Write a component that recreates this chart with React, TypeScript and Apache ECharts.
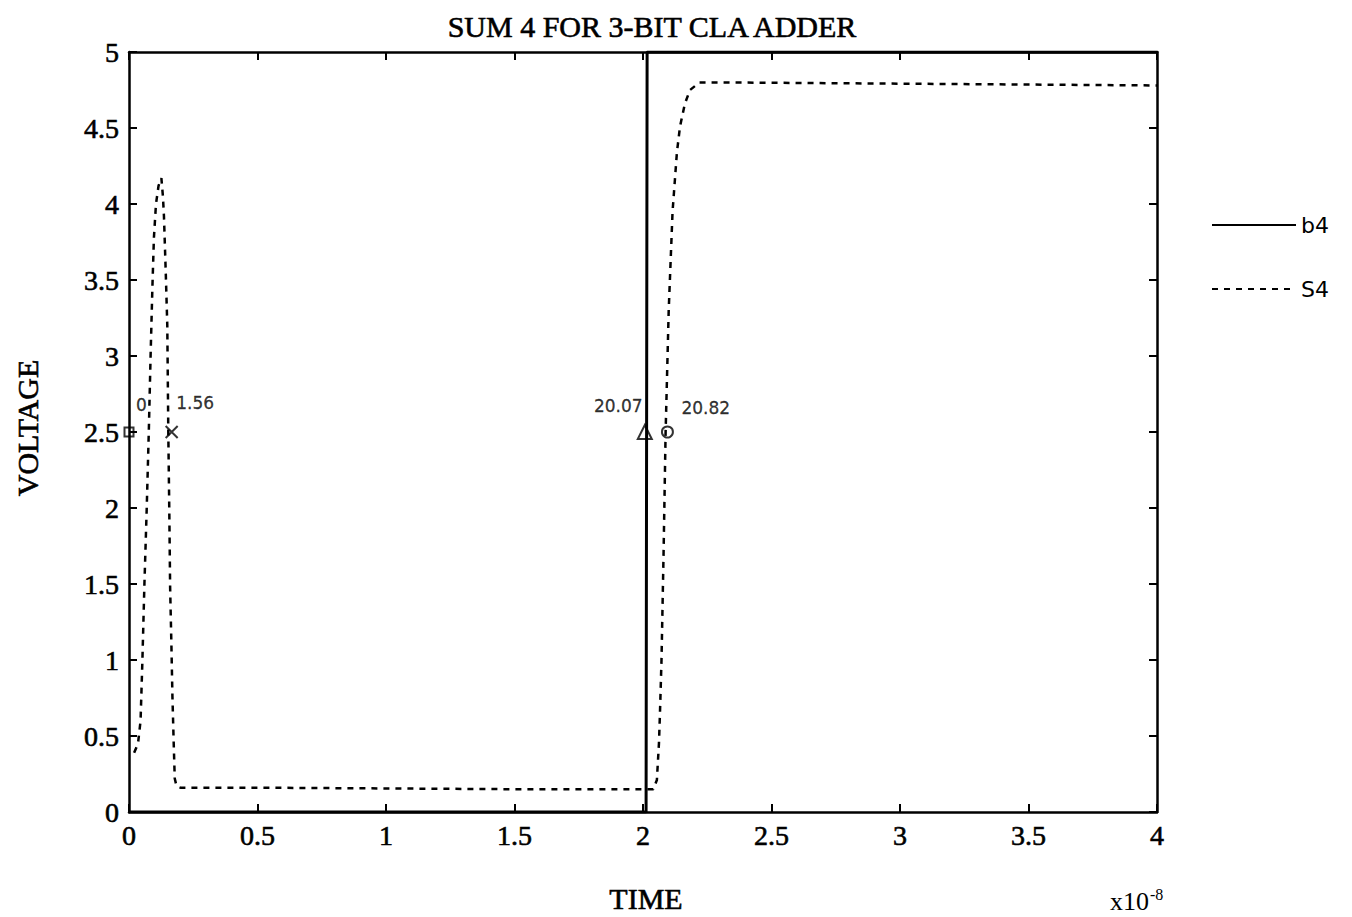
import React, { useEffect, useRef } from "react";
import * as echarts from "echarts";

const titleText = "SUM 4 FOR 3-BIT CLA ADDER";
const xTickLabels = ["0", "0.5", "1", "1.5", "2", "2.5", "3", "3.5", "4"];
const yTickLabels = ["0", "0.5", "1", "1.5", "2", "2.5", "3", "3.5", "4", "4.5", "5"];

const bName = "b4";
const bTime = [0, 2.012, 2.016, 4];
const bVolt = [0, 0, 5, 5];

const sName = "S4";
const sTime = [0.02, 0.035, 0.045, 0.052, 0.06, 0.069, 0.077, 0.084, 0.091, 0.097, 0.105, 0.115, 0.126, 0.132, 0.136, 0.143, 0.149, 0.153, 0.157, 0.16, 0.165, 0.169, 0.174, 0.178, 0.185, 0.2, 0.5, 1.0, 1.5, 2.0, 2.04, 2.054, 2.062, 2.066, 2.072, 2.08, 2.088, 2.1, 2.115, 2.132, 2.144, 2.163, 2.183, 2.22, 2.3, 4.0];
const sVolt = [0.39, 0.45, 0.6, 0.99, 1.5, 2.0, 2.5, 3.0, 3.45, 3.78, 4.0, 4.12, 4.17, 4.05, 3.92, 3.55, 3.2, 2.49, 1.95, 1.48, 1.1, 0.76, 0.45, 0.22, 0.17, 0.16, 0.16, 0.155, 0.15, 0.15, 0.15, 0.21, 0.45, 0.65, 1.0, 1.7, 2.5, 3.3, 3.95, 4.34, 4.51, 4.66, 4.75, 4.8, 4.8, 4.78];

const markerTime = [0, 0.166, 2.007, 2.095];
const markerVolt = [2.5, 2.5, 2.5, 2.5];
const markerLabels = ["0", "1.56", "20.07", "20.82"];

const crossPath = "path://M0,0L10,10M10,0L0,10";

export default function App() {
  const ref = useRef<HTMLDivElement>(null);
  useEffect(() => {
    if (!ref.current) return;
    const chart = echarts.init(ref.current, null, { renderer: "svg" });
    const serif = "'Liberation Serif', 'DejaVu Serif', serif";
    const hand = "'DejaVu Sans', sans-serif";
    const labelPos: any[] = [
      { position: [14, -29], align: "left" },
      { position: [13, -29], align: "left" },
      { position: [-17, -25], align: "center" },
      { position: [22, -25], align: "left" },
    ];
    const symbols = ["rect", crossPath, "triangle", "circle"];
    const sizes = [9, 12, 14, 11];
    const markerData = markerTime.map((t, i) => ({
      value: [t, markerVolt[i]],
      symbol: symbols[i],
      symbolSize: sizes[i],
      label: {
        show: true,
        formatter: markerLabels[i],
        position: labelPos[i].position,
        align: labelPos[i].align,
        fontFamily: hand,
        fontSize: 17,
        color: "#000",
        textBorderColor: "#000",
        textBorderWidth: 0.3,
      },
    }));
    const axisCommon = {
      min: 0,
      axisLine: { show: true, onZero: false, lineStyle: { color: "#000", width: 2.5 } },
      axisTick: { show: true, inside: true, length: 8, lineStyle: { color: "#000", width: 2 } },
      splitLine: { show: false },
    };
    const tickFont = {
      fontFamily: serif,
      fontSize: 28,
      color: "#000",
      textBorderColor: "#000",
      textBorderWidth: 0.6,
    };
    chart.setOption({
      animation: false,
      backgroundColor: "#fff",
      title: {
        text: titleText,
        left: 647,
        top: 6,
        textAlign: "center",
        textStyle: {
          fontFamily: serif,
          fontSize: 30,
          fontWeight: "normal",
          color: "#000",
          textBorderColor: "#000",
          textBorderWidth: 0.6,
        },
      },
      grid: { left: 129, right: 195, top: 52, bottom: 105 },
      legend: {
        orient: "vertical",
        left: 1206,
        top: 209,
        itemWidth: 84,
        itemHeight: 14,
        itemGap: 42,
        data: [bName, sName],
        itemStyle: { opacity: 0 },
        textStyle: { fontFamily: hand, fontSize: 22, color: "#000" },
      },
      xAxis: [
        {
          ...axisCommon,
          type: "value",
          max: 4,
          interval: 0.5,
          axisLabel: {
            ...tickFont,
            margin: 9,
            formatter: (v: number) => xTickLabels[Math.round(v * 2)] ?? "",
          },
        },
        {
          ...axisCommon,
          type: "value",
          position: "top",
          max: 4,
          interval: 0.5,
          axisLabel: { show: false },
        },
      ],
      yAxis: [
        {
          ...axisCommon,
          type: "value",
          max: 5,
          interval: 0.5,
          axisLabel: {
            ...tickFont,
            margin: 10,
            formatter: (v: number) => yTickLabels[Math.round(v * 2)] ?? "",
          },
        },
        {
          ...axisCommon,
          type: "value",
          position: "right",
          max: 5,
          interval: 0.5,
          axisLabel: { show: false },
        },
      ],
      graphic: [
        {
          type: "text",
          x: 27,
          y: 428,
          rotation: Math.PI / 2,
          style: {
            text: "VOLTAGE",
            fontFamily: serif,
            fontSize: 30,
            fill: "#000",
            stroke: "#000",
            lineWidth: 0.6,
            align: "center",
            verticalAlign: "middle",
          },
        },
        {
          type: "text",
          x: 646,
          y: 898,
          style: {
            text: "TIME",
            fontFamily: serif,
            fontSize: 30,
            fill: "#000",
            stroke: "#000",
            lineWidth: 0.6,
            align: "center",
            verticalAlign: "middle",
          },
        },
        {
          type: "text",
          x: 1110,
          y: 900,
          style: {
            text: "{a|x10}{b|-8}",
            fill: "#000",
            align: "left",
            verticalAlign: "middle",
            rich: {
              a: { fontFamily: serif, fontSize: 26, fill: "#000", verticalAlign: "bottom" },
              b: { fontFamily: serif, fontSize: 16, fill: "#000", verticalAlign: "top", padding: [0, 0, 12, 1] },
            },
          },
        },
      ],
      series: [
        {
          name: bName,
          type: "line",
          symbol: "none",
          data: bTime.map((t, i) => [t, bVolt[i]]),
          lineStyle: { color: "#000", width: 3, type: "solid" },
          itemStyle: { color: "#000" },
          z: 3,
        },
        {
          name: sName,
          type: "line",
          symbol: "none",
          data: sTime.map((t, i) => [t, sVolt[i]]),
          lineStyle: { color: "#000", width: 2.5, type: [6, 6] },
          itemStyle: { color: "#000" },
          z: 3,
        },
        {
          name: "markers",
          type: "scatter",
          data: markerData,
          itemStyle: { color: "none", borderColor: "#000", borderWidth: 2 },
          z: 4,
        },
      ],
    });
    return () => chart.dispose();
  }, []);
  return (
    <div
      ref={ref}
      style={{ position: "fixed", left: 0, top: 0, width: 1352, height: 917, background: "#fff" }}
    />
  );
}
